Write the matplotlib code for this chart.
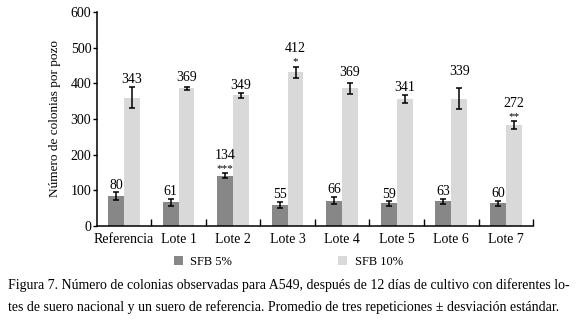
import matplotlib
matplotlib.use("Agg")
import matplotlib.pyplot as plt
import numpy as np

categories = ["Referencia", "Lote 1", "Lote 2", "Lote 3", "Lote 4", "Lote 5", "Lote 6", "Lote 7"]
sfb5_height = [83, 66, 140, 58, 71, 63, 69, 63]
sfb5_err = [11, 10, 7, 9, 10, 6, 7, 8]
sfb5_label = ["80", "61", "134", "55", "66", "59", "63", "60"]
sfb5_stars = ["", "", "***", "", "", "", "", ""]
sfb10_height = [360, 386, 366, 431, 386, 357, 357, 283]
sfb10_err = [30, 5, 8, 16, 16, 11, 30, 10]
sfb10_label = ["343", "369", "349", "412", "369", "341", "339", "272"]
sfb10_stars = ["", "", "", "*", "", "", "", "**"]
yticks = [0, 100, 200, 300, 400, 500, 600]
series_names = ["SFB 5%", "SFB 10%"]
caption = ["Figura 7. Número de colonias observadas para A549, después de 12 días de cultivo con diferentes lo-",
           "tes de suero nacional y un suero de referencia. Promedio de tres repeticiones \u00b1 desviación estándar."]

plt.rcParams['font.family'] = ['Liberation Serif', 'DejaVu Serif']
dark = "#878787"
light = "#d9d9d9"

fig = plt.figure(figsize=(5.8, 3.25), dpi=100)
ax = fig.add_axes([0.167, 0.305, 0.752, 0.658])

x = np.arange(len(categories))
w = 0.29
b1 = ax.bar(x - w / 2, sfb5_height, w, color=dark, label=series_names[0], zorder=2)
b2 = ax.bar(x + w / 2, sfb10_height, w, color=light, label=series_names[1], zorder=2)
ekw = dict(fmt="none", ecolor="black", elinewidth=1.1, capsize=2.5, capthick=1.1, zorder=3)
ax.errorbar(x - w / 2, sfb5_height, yerr=sfb5_err, **ekw)
ax.errorbar(x + w / 2, sfb10_height, yerr=sfb10_err, **ekw)

label_pad5 = [0.5, 0.5, 0.5, 0.5, 0.5, 0.5, 0.5, 0.5]
label_pad10 = [0.5, 2, 0.5, 0.5, 2.5, 0.5, 7.5, 0.5]
for i in range(len(categories)):
    top = sfb5_height[i] + sfb5_err[i]
    off = label_pad5[i]
    if sfb5_stars[i]:
        ax.annotate(sfb5_stars[i], (x[i] - w / 2, top), xytext=(0, 0), textcoords="offset points",
                    ha="center", va="bottom", fontsize=8)
        off = 8
    ax.annotate(sfb5_label[i], (x[i] - w / 2, top), xytext=(0, off), textcoords="offset points",
                ha="center", va="bottom", fontsize=10)
    top = sfb10_height[i] + sfb10_err[i]
    off = label_pad10[i]
    if sfb10_stars[i]:
        ax.annotate(sfb10_stars[i], (x[i] + w / 2, top), xytext=(0, 0), textcoords="offset points",
                    ha="center", va="bottom", fontsize=8)
        off = 8
    ax.annotate(sfb10_label[i], (x[i] + w / 2, top), xytext=(0, off), textcoords="offset points",
                ha="center", va="bottom", fontsize=10)

ax.set_xlim(-0.5, len(categories) - 0.5)
ax.set_ylim(0, 600)
ax.set_yticks(yticks)
ax.tick_params(axis="y", direction="out", length=3, width=1, labelsize=10, pad=1)
ax.set_xticks(x)
ax.set_xticklabels(categories, fontsize=10)
ax.tick_params(axis="x", length=0, pad=5)
ax.set_xticks(np.arange(len(categories)) + 0.5, minor=True)
ax.tick_params(axis="x", which="minor", direction="in", length=5, width=1)
for s in ["top", "right"]:
    ax.spines[s].set_visible(False)
for s in ["left", "bottom"]:
    ax.spines[s].set_linewidth(1.1)
ax.set_ylabel("Número de colonias por pozo", fontsize=9.5, labelpad=7)

fig.legend(handles=[b1, b2], loc="center", bbox_to_anchor=(0.497, 1 - 262 / 325), ncol=2, frameon=False,
           fontsize=9, handlelength=0.7, handleheight=0.7, handletextpad=0.6, columnspacing=8.5)

fig.text(8 / 580, 1 - 285 / 325, caption[0], fontsize=10.0, va="center", ha="left")
fig.text(8 / 580, 1 - 307 / 325, caption[1], fontsize=10.0, va="center", ha="left")

fig.savefig("out.png", dpi=100)
